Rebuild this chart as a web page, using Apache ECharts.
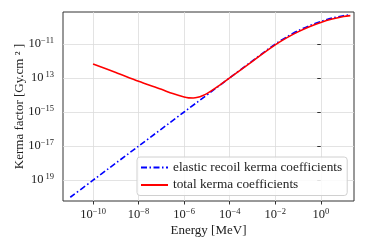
<!DOCTYPE html>
<html><head><meta charset="utf-8">
<script src="https://cdn.jsdelivr.net/npm/echarts@6/dist/echarts.min.js"></script>
<style>html,body{margin:0;padding:0;background:#fff}#c{width:367px;height:248px}</style>
</head><body><div id="c"></div>
<script>
// log10 of energy [MeV] and kerma factor [Gy.cm^2]
const elasticLogE = [-11, -10, -8, -6, -4, -3, -2.5, -2, -1.5, -1, -0.5, 0, 0.5, 1, 1.3];
const elasticLogK = [-20, -19, -17, -15, -13, -12.0, -11.5, -11.02, -10.6, -10.24, -9.94, -9.69, -9.49, -9.35, -9.3];
const totalLogE = [-10, -9, -8, -7, -6.5, -6, -5.8, -5.6, -5.4, -5.2, -5, -4.5, -4, -3, -2.5, -2, -1.5, -1, -0.5, 0, 0.5, 1, 1.3];
const totalLogK = [-12.18, -12.68, -13.2, -13.67, -13.92, -14.12, -14.17, -14.18, -14.14, -14.05, -13.92, -13.48, -13.0, -12.03, -11.53, -11.06, -10.65, -10.3, -10.0, -9.75, -9.55, -9.4, -9.35];
const xTicks = [-10, -8, -6, -4, -2, 0];
const yTicks = [-19, -17, -15, -13, -11];
const yTickSup = {'-19': ' 19', '-17': '−17', '-15': '−15', '-13': ' 13', '-11': '−11'};
const seriesNames = ['elastic recoil kerma coefficients', 'total kerma coefficients'];

const serif = '"Liberation Serif", "DejaVu Serif", serif';
const chart = echarts.init(document.getElementById('c'));
const zip = (a, b) => a.map((v, i) => [v, b[i]]);
const richLab = {
  b: {fontFamily: serif, fontSize: 12.5, color: '#222'},
  s: {fontFamily: serif, fontSize: 8.5, color: '#222', padding: [0, 0, 7, 0]}
};
chart.setOption({
  animation: false,
  grid: {left: 63, right: 13, top: 12, bottom: 47, containLabel: false, outerBoundsMode: 'none',
    show: true, borderColor: '#333', borderWidth: 1, backgroundColor: 'transparent'},
  xAxis: {
    type: 'value', min: -11.32, max: 1.46,
    name: 'Energy [MeV]', nameLocation: 'middle', nameGap: 23, nameMoveOverlap: false,
    nameTextStyle: {fontFamily: serif, fontSize: 13, color: '#222'},
    axisLine: {show: false},
    axisTick: {show: true, customValues: xTicks, length: 3.5, lineStyle: {color: '#333'}},
    axisLabel: {customValues: xTicks, margin: 6, rich: richLab,
      formatter: v => '{b|10}{s|' + (v < 0 ? '−' + (-v) : v) + '}'},
    splitLine: {show: true, lineStyle: {color: '#dcdcdc', width: 0.8}}
  },
  yAxis: {
    type: 'value', min: -20.22, max: -9.135,
    name: 'Kerma factor [Gy.cm ² ]', nameLocation: 'middle', nameGap: 37, nameMoveOverlap: false,
    nameTextStyle: {fontFamily: serif, fontSize: 13, color: '#222'},
    axisLine: {show: false},
    axisTick: {show: true, customValues: yTicks, length: 3.5, lineStyle: {color: '#333'}},
    axisLabel: {customValues: yTicks, margin: 9, rich: richLab,
      formatter: v => '{b|10}{s|' + yTickSup[String(v)] + '}'},
    splitLine: {show: true, lineStyle: {color: '#dcdcdc', width: 0.8}}
  },
  legend: {
    orient: 'vertical', left: 137, top: 157,
    itemWidth: 27, itemHeight: 12, itemGap: 4.5,
    padding: [4, 5, 4, 3],
    itemStyle: {color: 'rgba(0,0,0,0)', borderWidth: 0},
    backgroundColor: 'rgba(255,255,255,0.85)', borderColor: '#d0d0d0', borderWidth: 1, borderRadius: 3,
    textStyle: {fontFamily: serif, fontSize: 13.3, color: '#222'},
    data: seriesNames
  },
  series: [
    {name: seriesNames[0], type: 'line', data: zip(elasticLogE, elasticLogK), symbol: 'none', smooth: 0.3, z: 2,
     lineStyle: {color: '#0000ff', width: 1.6, type: [6, 2.5, 1.5, 2.5]}, itemStyle: {color: '#0000ff'}},
    {name: seriesNames[1], type: 'line', data: zip(totalLogE, totalLogK), symbol: 'none', smooth: 0.3, z: 3,
     lineStyle: {color: '#ff0000', width: 1.6}, itemStyle: {color: '#ff0000'}}
  ]
});
</script></body></html>
